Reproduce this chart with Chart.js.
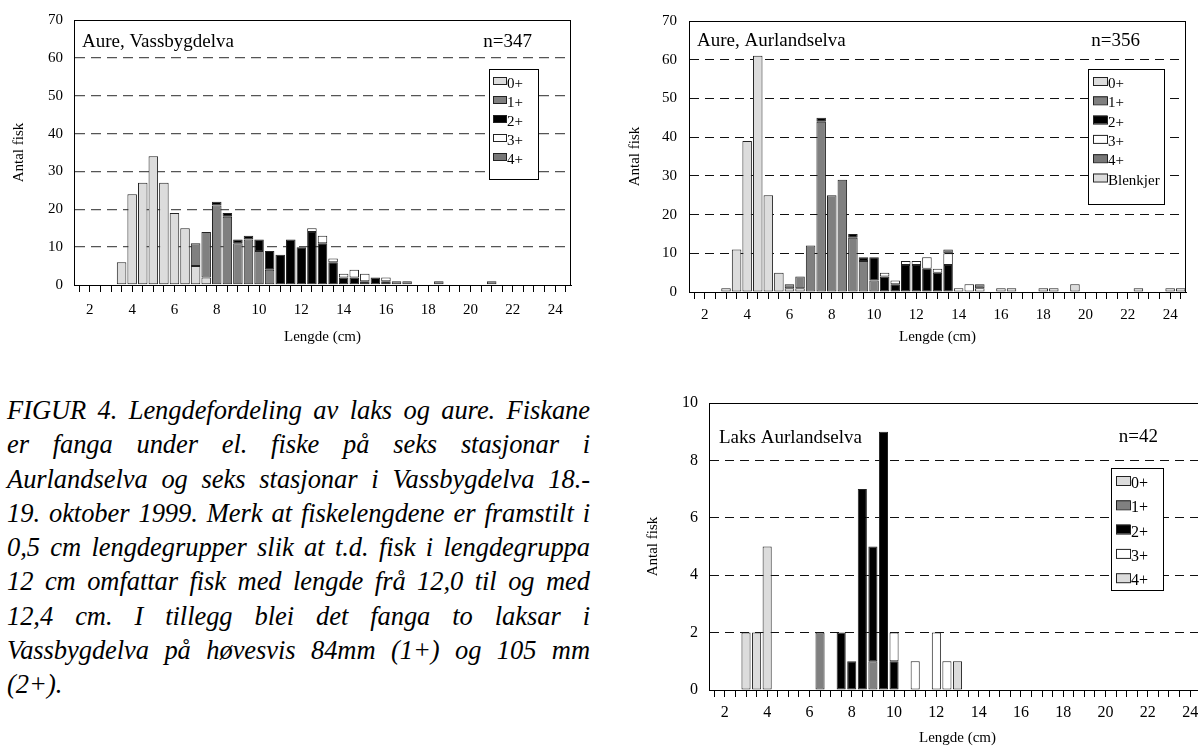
<!DOCTYPE html>
<html><head><meta charset="utf-8">
<script src="https://cdn.jsdelivr.net/npm/chart.js@4.4.1/dist/chart.umd.min.js"></script>
<style>
html,body{margin:0;padding:0;background:#fff;overflow:hidden;width:1198px;height:749px;position:relative;}
canvas{position:absolute;}
#caption{position:absolute;left:7px;top:393px;width:583px;font-family:'Liberation Serif','Times New Roman',serif;font-style:italic;font-size:26.5px;line-height:34.25px;color:#000;}
#caption div{text-align:justify;text-align-last:justify;white-space:normal;}
#caption div.last{text-align-last:left;}
</style></head>
<body>
<canvas id="c1" width="600" height="350" style="left:0;top:0"></canvas>
<canvas id="c2" width="598" height="350" style="left:600px;top:0"></canvas>
<canvas id="c3" width="620" height="369" style="left:600px;top:380px"></canvas>
<div id="caption">
<div>FIGUR 4. Lengdefordeling av laks og aure. Fiskane</div>
<div>er fanga under el. fiske på seks stasjonar i</div>
<div>Aurlandselva og seks stasjonar i Vassbygdelva 18.-</div>
<div>19. oktober 1999. Merk at fiskelengdene er framstilt i</div>
<div>0,5 cm lengdegrupper slik at t.d. fisk i lengdegruppa</div>
<div>12 cm omfattar fisk med lengde frå 12,0 til og med</div>
<div>12,4 cm. I tillegg blei det fanga to laksar i</div>
<div>Vassbygdelva på høvesvis 84mm (1+) og 105 mm</div>
<div class="last">(2+).</div>
</div>
<script>
// ---- categories (length groups, cm) ----
const lengths = [1.5,2,2.5,3,3.5,4,4.5,5,5.5,6,
  6.5,7,7.5,8,8.5,9,9.5,10,10.5,11,
  11.5,12,12.5,13,13.5,14,14.5,15,15.5,16,
  16.5,17,17.5,18,18.5,19,19.5,20,20.5,21,
  21.5,22,22.5,23,23.5,24,24.5];
const xTickLabels = [2,4,6,8,10,12,14,16,18,20,22,24];
const ageLabels = ['0+','1+','2+','3+','4+'];

// ---- Aure, Vassbygdelva (n=347) ----
const vass0 = [0,0,0,0,6,24,27,34,27,19, 15,5,2,0,0,0,0,0,0,0, 0,0,0,0,0,0,0,0,0,0, 0,0,0,0,0,0,0,0,0,0, 0,0,0,0,0,0,0];
const vass1 = [0,0,0,0,0,0,0,0,0,0, 0,6,12,21,18,11,12,9,4,0, 0,0,0,0,0,0,0,0,0,0, 0,0,0,0,0,0,0,0,0,0, 0,0,0,0,0,0,0];
const vass2 = [0,0,0,0,0,0,0,0,0,0, 0,0,0,1,1,1,1,3,5,8, 12,10,14,11,6,2,2,1,2,1, 0,0,0,0,0,0,0,0,0,0, 0,0,0,0,0,0,0];
const vass3 = [0,0,0,0,0,0,0,0,0,0, 0,0,0,0,0,0,0,0,0,0, 0,0,1,2,1,1,2,2,0,1, 0,0,0,0,0,0,0,0,0,0, 0,0,0,0,0,0,0];
const vass4 = [0,0,0,0,0,0,0,0,0,0, 0,0,0,0,0,0,0,0,0,0, 0,0,0,0,0,0,0,0,0,0, 1,1,0,0,1,0,0,0,0,1, 0,0,0,0,0,0,0];

// ---- Aure, Aurlandselva (n=356) ----
const aur0 = [0,0,0,1,11,39,61,25,5,1, 1,0,0,0,0,0,0,0,0,0, 0,0,0,0,0,0,0,0,0,0, 0,0,0,0,0,0,0,0,0,0, 0,0,0,0,0,0,0];
const aur1 = [0,0,0,0,0,0,0,0,0,1, 3,12,44,25,29,14,8,3,0,0, 0,0,0,0,0,0,0,0,0,0, 0,0,0,0,0,0,0,0,0,0, 0,0,0,0,0,0,0];
const aur2 = [0,0,0,0,0,0,0,0,0,0, 0,0,1,0,0,1,1,6,4,2, 7,7,6,5,7,0,0,0,0,0, 0,0,0,0,0,0,0,0,0,0, 0,0,0,0,0,0,0];
const aur3 = [0,0,0,0,0,0,0,0,0,0, 0,0,0,0,0,0,0,0,1,1, 1,1,3,1,3,1,2,1,0,0, 0,0,0,0,0,0,0,0,0,0, 0,0,0,0,0,0,0];
const aur4 = [0,0,0,0,0,0,0,0,0,0, 0,0,0,0,0,0,0,0,0,0, 0,0,0,0,1,0,0,1,0,0, 0,0,0,0,0,0,0,0,0,0, 0,0,0,0,0,0,0];
const aurB = [0,0,0,0,0,0,0,0,0,0, 0,0,0,0,0,0,0,0,0,0, 0,0,0,0,0,0,0,0,0,1, 1,0,0,1,1,0,2,0,0,0, 0,0,1,0,0,1,1];

// ---- Laks, Aurlandselva (n=42) ----
const laks0 = [0,0,0,2,2,5,0,0,0,0, 0,0,0,0,0,0,0,0,0,0, 0,0,0,0,0,0,0,0,0,0, 0,0,0,0,0,0,0,0,0,0, 0,0,0,0,0,0,0];
const laks1 = [0,0,0,0,0,0,0,0,0,0, 2,0,0,0,0,1,0,0,0,0, 0,0,0,0,0,0,0,0,0,0, 0,0,0,0,0,0,0,0,0,0, 0,0,0,0,0,0,0];
const laks2 = [0,0,0,0,0,0,0,0,0,0, 0,0,2,1,7,4,9,1,0,0, 0,0,0,0,0,0,0,0,0,0, 0,0,0,0,0,0,0,0,0,0, 0,0,0,0,0,0,0];
const laks3 = [0,0,0,0,0,0,0,0,0,0, 0,0,0,0,0,0,0,1,0,1, 0,2,1,0,0,0,0,0,0,0, 0,0,0,0,0,0,0,0,0,0, 0,0,0,0,0,0,0];
const laks4 = [0,0,0,0,0,0,0,0,0,0, 0,0,0,0,0,0,0,0,0,0, 0,0,0,1,0,0,0,0,0,0, 0,0,0,0,0,0,0,0,0,0, 0,0,0,0,0,0,0];

const LIGHT='#dcdcdc', MID='#808080', DARK4='#777777', BLACK='#000000', WHITE='#ffffff';
const SERIF='"Liberation Serif","Times New Roman",serif';
Chart.defaults.font.family = SERIF;
Chart.defaults.font.size = 15;
Chart.defaults.color = '#000';

const deco = {
  id:'deco',
  afterDraw(chart, args, o){
    const ctx = chart.ctx, a = chart.chartArea;
    ctx.save();
    ctx.strokeStyle = '#000'; ctx.lineWidth = 1;
    ctx.strokeRect(Math.round(a.left)+0.5, Math.round(a.top)+0.5, Math.round(a.right-a.left)-1, Math.round(a.bottom-a.top));
    ctx.fillStyle = '#000';
    ctx.font = o.titleFont; ctx.textBaseline = 'alphabetic';
    ctx.textAlign = 'left'; ctx.fillText(o.title, o.tx, o.ty);
    ctx.textAlign = 'right'; ctx.fillText(o.n, o.nx, o.ny);
    const L = o.legend;
    ctx.fillStyle = '#fff'; ctx.fillRect(L.x, L.y, L.w, L.h);
    ctx.strokeStyle = '#000'; ctx.strokeRect(L.x+0.5, L.y+0.5, L.w, L.h);
    chart.data.datasets.forEach((ds, i) => {
      const y = L.y0 + i*L.dy;
      ctx.fillStyle = ds.backgroundColor; ctx.fillRect(L.sx, y, L.sw, L.sh);
      ctx.strokeStyle = '#222'; ctx.strokeRect(L.sx+0.5, y+0.5, L.sw, L.sh);
      ctx.fillStyle = '#000'; ctx.font = L.font; ctx.textAlign = 'left';
      ctx.fillText(ds.label, L.tx, y + L.tdy);
    });
    ctx.restore();
  }
};

function makeChart(id, series, colors, labels, c){
  const datasets = series.map((d, i) => ({
    label: labels[i], data: d, backgroundColor: colors[i],
    borderColor: '#222', borderWidth: 1, borderSkipped: false,
    barPercentage: c.barPct, categoryPercentage: 1
  }));
  return new Chart(document.getElementById(id), {
    type: 'bar',
    data: { labels: lengths, datasets },
    options: {
      responsive: false, animation: false, devicePixelRatio: 1,
      layout: { padding: c.pad },
      plugins: { legend: { display: false }, tooltip: { enabled: false }, deco: c.deco },
      scales: {
        x: {
          stacked: true,
          afterFit(s){ s.height = c.xH; },
          grid: { display: true, drawOnChartArea: false, drawTicks: true, tickLength: 7, color: '#000', offset: false },
          border: { display: true, color: '#000', width: 1 },
          ticks: { autoSkip: false, maxRotation: 0, padding: c.xPad, font: { size: c.fs },
            callback(v, i){ return xTickLabels.includes(lengths[i]) ? String(lengths[i]) : ''; } },
          title: { display: true, text: 'Lengde (cm)', font: { size: 15 }, padding: { top: 0, bottom: c.xtPad } }
        },
        y: {
          stacked: true, min: 0, max: c.yMax,
          afterFit(s){ s.width = c.yW; },
          grid: { drawTicks: false, color: (ctx) => (ctx.tick.value === 0 || ctx.tick.value === c.yMax) ? 'rgba(0,0,0,0)' : c.gridColor, lineWidth: c.gridW },
          border: { display: true, color: '#000', width: 1, dash: c.dash },
          ticks: { stepSize: c.step, padding: c.yPad, font: { size: c.fs } },
          title: { display: true, text: 'Antal fisk', font: { size: 15 }, padding: { top: c.ytPad, bottom: 0 } }
        }
      }
    },
    plugins: [deco]
  });
}

makeChart('c1', [vass0, vass1, vass2, vass3, vass4], [LIGHT, MID, BLACK, WHITE, DARK4], ageLabels, {
  pad: { left: 0, top: 19, right: 29, bottom: 0 }, yW: 74, xH: 65, yMax: 70, step: 10,
  xPad: 9, yPad: 11, xtPad: 4, ytPad: 10, fs: 15, barPct: 0.9,
  gridColor: '#555', gridW: 1.3, dash: [10, 6],
  deco: { title: 'Aure, Vassbygdelva', n: 'n=347', titleFont: '19px ' + SERIF, tx: 82, ty: 47, nx: 532, ny: 47,
    legend: { x: 489, y: 69, w: 49, h: 110, y0: 77, dy: 19, sx: 493, sw: 13, sh: 7, tx: 507, tdy: 11, font: '15px ' + SERIF } }
});

makeChart('c2', [aur0, aur1, aur2, aur3, aur4, aurB], [LIGHT, MID, BLACK, WHITE, DARK4, LIGHT], ageLabels.concat(['Blenkjer']), {
  pad: { left: 0, top: 18, right: 12, bottom: 0 }, yW: 89, xH: 58, yMax: 70, step: 10,
  xPad: 7, yPad: 12, xtPad: 4, ytPad: 26, fs: 15, barPct: 0.9,
  gridColor: '#111', gridW: 1, dash: [9, 6],
  deco: { title: 'Aure, Aurlandselva', n: 'n=356', titleFont: '19px ' + SERIF, tx: 97, ty: 46, nx: 540, ny: 46,
    legend: { x: 488, y: 69, w: 76, h: 135, y0: 77, dy: 19.3, sx: 493, sw: 14, sh: 8, tx: 508, tdy: 11, font: '15px ' + SERIF } }
});

makeChart('c3', [laks0, laks1, laks2, laks3, laks4], [LIGHT, MID, BLACK, WHITE, LIGHT], ageLabels, {
  pad: { left: 0, top: 23, right: 14, bottom: 0 }, yW: 109, xH: 59, yMax: 10, step: 2,
  xPad: 6, yPad: 11, xtPad: 2, ytPad: 44, fs: 16, barPct: 0.86,
  gridColor: '#111', gridW: 1, dash: [9, 6],
  deco: { title: 'Laks Aurlandselva', n: 'n=42', titleFont: '19px ' + SERIF, tx: 119, ty: 63, nx: 558, ny: 62,
    legend: { x: 511, y: 88, w: 52, h: 122, y0: 96, dy: 24.3, sx: 516, sw: 14, sh: 9, tx: 531, tdy: 12, font: '16px ' + SERIF } }
});

// fit caption lines into the column width
document.querySelectorAll('#caption div').forEach(d => {
  const s = document.createElement('span');
  s.style.whiteSpace = 'nowrap';
  s.textContent = d.textContent;
  d.textContent = '';
  d.appendChild(s);
  const w = s.getBoundingClientRect().width;
  const target = 583;
  const txt = s.textContent;
  d.textContent = txt;
  if (w > target - 2) {
    d.style.letterSpacing = ((target - 3 - w) / txt.length) + 'px';
  }
});
</script>
</body></html>
